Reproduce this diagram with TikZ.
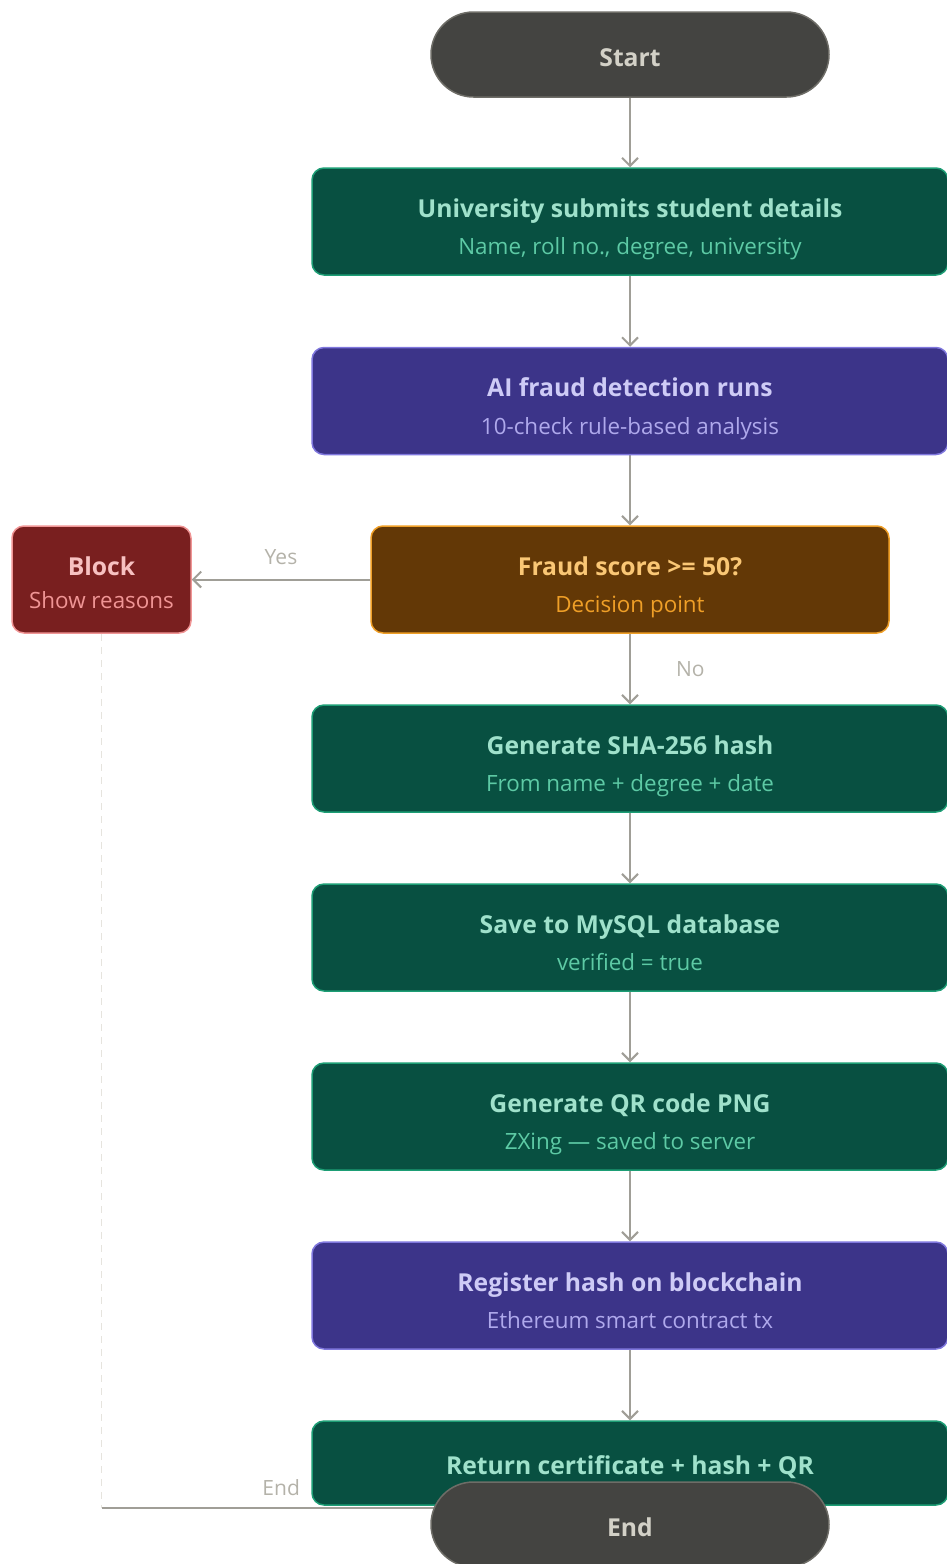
\documentclass[tikz,border=0pt]{standalone}
\usepackage{fontspec}
\setmainfont{Open Sans}
\usepackage{xcolor}
\usepackage{tikz}
\usetikzlibrary{arrows.meta, backgrounds}

\definecolor{graybg}{HTML}{444441}
\definecolor{grayline}{HTML}{6E6D67}
\definecolor{graytext}{HTML}{D3D1C7}
\definecolor{tealbg}{HTML}{085041}
\definecolor{tealline}{HTML}{1D9E75}
\definecolor{tealhead}{HTML}{9FE1CB}
\definecolor{tealsub}{HTML}{5DCAA5}
\definecolor{purplebg}{HTML}{3C3489}
\definecolor{purpleline}{HTML}{7F77DD}
\definecolor{purplehead}{HTML}{CECBF6}
\definecolor{purplesub}{HTML}{AFA9EC}
\definecolor{amberbg}{HTML}{633806}
\definecolor{amberline}{HTML}{EF9F27}
\definecolor{amberhead}{HTML}{FAC775}
\definecolor{ambersub}{HTML}{EF9F27}
\definecolor{redbg}{HTML}{791F1F}
\definecolor{redline}{HTML}{F09595}
\definecolor{redhead}{HTML}{F7C1C1}
\definecolor{redsub}{HTML}{F09595}
\definecolor{arrowgray}{HTML}{A09E97}
\definecolor{labelgray}{HTML}{B4B2A9}
\definecolor{dashgray}{HTML}{E6E4DE}

\newcommand{\boxhead}[2]{{\color{#1}\fontsize{24.7}{24.7}\selectfont\bfseries #2}}

\begin{document}
\begin{tikzpicture}[x=1pt, y=-1pt,
        card/.style={rectangle, rounded corners=12pt, line width=1.5pt, inner sep=0pt,
            minimum width=636pt, minimum height=107pt, align=center,
            text height=66pt, text depth=0pt, font=\fontsize{22.4}{37.5}\selectfont},
        greencard/.style={card, fill=tealbg, draw=tealline, text=tealsub},
        bluecard/.style={card, fill=purplebg, draw=purpleline, text=purplesub},
        pill/.style={rectangle, rounded corners=42.5pt, fill=graybg, draw=grayline, line width=1.5pt,
            minimum width=398pt, minimum height=85pt, inner sep=0pt, text=graytext,
            text height=23pt, text depth=0pt, font=\fontsize{24.7}{24.7}\selectfont\bfseries},
        flow/.style={-{Straight Barb[length=8pt, width=16pt]}, line width=2pt, draw=arrowgray},
        tag/.style={text=labelgray, font=\fontsize{21}{21}\selectfont, inner sep=0pt}]
    \useasboundingbox (0,0) rectangle (947,1564);

    % 开始
    \node[pill] (start) at (630,54.5) {Start};

    % 主流程
    \node[greencard] (submit) at (630,221.5) {\boxhead{tealhead}{University submits student details}\\Name, roll no., degree, university};
    \node[bluecard] (detect) at (630,401) {\boxhead{purplehead}{AI fraud detection runs}\\10-check rule-based analysis};
    \node[card, minimum width=518pt, fill=amberbg, draw=amberline, text=ambersub] (decide) at (630,579.5) {\boxhead{amberhead}{Fraud score >= 50?}\\Decision point};
    \node[card, minimum width=179pt, fill=redbg, draw=redline, text=redsub, text height=57.6pt, font=\fontsize{22.4}{33}\selectfont] (block) at (101.5,579.5) {\boxhead{redhead}{Block}\\Show reasons};
    \node[greencard] (hash) at (630,758.5) {\boxhead{tealhead}{Generate SHA-256 hash}\\From name + degree + date};
    \node[greencard] (save) at (630,937.5) {\boxhead{tealhead}{Save to MySQL database}\\verified = true};
    \node[greencard] (qrcode) at (630,1116.5) {\boxhead{tealhead}{Generate QR code PNG}\\ZXing — saved to server};
    \node[bluecard] (chain) at (630,1295.5) {\boxhead{purplehead}{Register hash on blockchain}\\Ethereum smart contract tx};
    \node[greencard, minimum height=84pt, text height=22pt, text depth=0pt] (result) at (630,1463) {\boxhead{tealhead}{Return certificate + hash + QR}};

    % 结束
    \node[pill] (stop) at (630,1524.5) {End};

    % 连线
    \begin{scope}[on background layer]
        \draw[flow] (start) -- (submit);
        \draw[flow] (submit) -- (detect);
        \draw[flow] (detect) -- (decide);
        \draw[flow] (decide) -- node[tag, yshift=22pt] (yeslabel) {Yes} (block);
        \draw[flow] (decide) -- node[tag, anchor=west, xshift=45pt] (nolabel) {No} (hash);
        \draw[flow] (hash) -- (save);
        \draw[flow] (save) -- (qrcode);
        \draw[flow] (qrcode) -- (chain);
        \draw[flow] (chain) -- (result);
        % 拦截分支回到结束
        \coordinate (turn) at (101.5,1508);
        \draw[dashgray, line width=1.5pt, dash pattern=on 7pt off 6pt] (block) -- (turn);
        \draw[arrowgray, line width=2pt] (turn) -- node[tag, pos=0.34, yshift=20pt] (endlabel) {End} (turn -| stop);
    \end{scope}
\end{tikzpicture}
\end{document}
